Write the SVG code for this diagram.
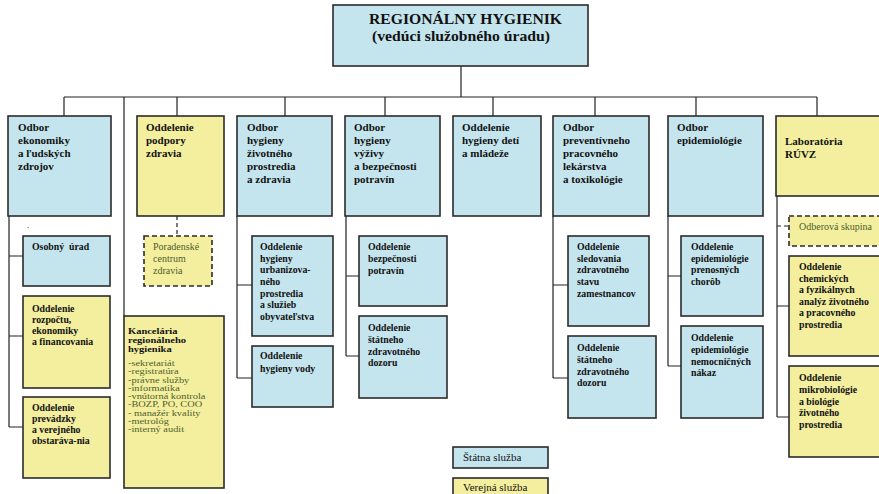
<svg xmlns="http://www.w3.org/2000/svg" width="879" height="494" viewBox="0 0 879 494">
<style>
.b{fill:#c5e5ee;stroke:#2b2b2b;stroke-width:1.6}
.y{fill:#f3ef9f;stroke:#2b2b2b;stroke-width:1.6}
.yd{fill:#f3ef9f;stroke:#2b2b2b;stroke-width:1.6;stroke-dasharray:5,3}
text{font-family:"Liberation Serif","DejaVu Serif",serif;fill:#111}
.h{font-size:11px;font-weight:bold}
.s{font-size:9.8px;font-weight:bold}
.g{font-size:10px;fill:#4f5e2c}
.k{font-size:8.5px;fill:#4f5e2c}
.l{font-size:11px}
.c{fill:none;stroke:#222;stroke-width:1.2}
.cd{fill:none;stroke:#222;stroke-width:1.2;stroke-dasharray:4,3}
</style>
<rect width="879" height="494" fill="#fff"/>
<g id="connectors">
<path class="c" d="M461 66V97M64 97H817M64 97V116M177 97V116M285 97V116M385 97V116M493 97V116M595 97V116M696 97V116M817 97V116M124 97V316"/>
<path class="c" d="M9 216V427M9 256H23M9 336H23M9 427H23"/>
<path class="cd" d="M177 216V236"/>
<path class="c" d="M237 216V378M237 285H252M237 378H252"/>
<path class="c" d="M346 216V356M346 276H359M346 356H359"/>
<path class="c" d="M553 216V378M553 285H568M553 378H568"/>
<path class="c" d="M668 216V366M668 276H681M668 366H681"/>
<path class="c" d="M777 196V417M777 306H789M777 417H789"/>
<path class="cd" d="M777 226H789"/>
</g>
<g id="top">
<rect class="b" x="333" y="5" width="255" height="61"/>
<text x="369" y="24" textLength="193" lengthAdjust="spacingAndGlyphs" style="font-size:15px;font-weight:bold">REGIONÁLNY HYGIENIK</text>
<text x="372" y="41" textLength="178" lengthAdjust="spacingAndGlyphs" style="font-size:14px;font-weight:bold">(vedúci služobného úradu)</text>
</g>
<g id="ekonomiky">
<rect class="b" x="8" y="116" width="103" height="100"/>
<text class="h"><tspan x="18" y="131">Odbor</tspan><tspan x="18" y="144">ekonomiky</tspan><tspan x="18" y="157">a ľudských</tspan><tspan x="18" y="170">zdrojov</tspan></text>
<text x="27" y="228" style="font-size:9px">.</text>
</g>
<g id="osobny">
<rect class="b" x="23" y="236" width="87" height="50"/>
<text class="s" x="32" y="250" xml:space="preserve">Osobný  úrad</text>
</g>
<g id="rozpoctu">
<rect class="y" x="23" y="296" width="87" height="92"/>
<text class="s"><tspan x="32" y="312">Oddelenie</tspan><tspan x="32" y="323">rozpočtu,</tspan><tspan x="32" y="334">ekonomiky</tspan><tspan x="32" y="345">a financovania</tspan></text>
</g>
<g id="prevadzky">
<rect class="y" x="23" y="397" width="87" height="81"/>
<text class="s"><tspan x="32" y="411">Oddelenie</tspan><tspan x="32" y="422">prevádzky</tspan><tspan x="32" y="433">a verejného</tspan><tspan x="32" y="444">obstaráva-nia</tspan></text>
</g>
<g id="podpory">
<rect class="y" x="137" y="116" width="87" height="100"/>
<text class="h"><tspan x="146" y="131">Oddelenie</tspan><tspan x="146" y="144">podpory</tspan><tspan x="146" y="157">zdravia</tspan></text>
</g>
<g id="poradenske">
<rect class="yd" x="144" y="236" width="68" height="50"/>
<text class="g"><tspan x="153" y="250">Poradenské</tspan><tspan x="153" y="262">centrum</tspan><tspan x="153" y="274">zdravia</tspan></text>
</g>
<g id="kancelaria">
<rect class="y" x="124" y="316" width="100" height="172"/>
<g transform="translate(128,0) scale(1.22,1)">
<text class="s" style="font-size:8.6px"><tspan x="0" y="334">Kancelária</tspan><tspan x="0" y="343">regionálneho</tspan><tspan x="0" y="352">hygienika</tspan></text>
<text class="k"><tspan x="0" y="366">-sekretariát</tspan><tspan x="0" y="374.3">-registratúra</tspan><tspan x="0" y="382.6">-právne služby</tspan><tspan x="0" y="390.9">-informatika</tspan><tspan x="0" y="399.2">-vnútorná kontrola</tspan><tspan x="0" y="407.5">-BOZP, PO, COO</tspan><tspan x="0" y="415.8">- manažér kvality</tspan><tspan x="0" y="424.1">-metrológ</tspan><tspan x="0" y="432.4">-interný audit</tspan></text>
</g>
</g>
<g id="zivotneho">
<rect class="b" x="237" y="116" width="95" height="100"/>
<text class="h"><tspan x="247" y="131">Odbor</tspan><tspan x="247" y="144">hygieny</tspan><tspan x="247" y="157">životného</tspan><tspan x="247" y="170">prostredia</tspan><tspan x="247" y="183">a zdravia</tspan></text>
</g>
<g id="urbanizovaneho">
<rect class="b" x="252" y="236" width="81" height="100"/>
<text class="s"><tspan x="260" y="250">Oddelenie</tspan><tspan x="260" y="261.5">hygieny</tspan><tspan x="260" y="273">urbanizova-</tspan><tspan x="260" y="284.5">ného</tspan><tspan x="260" y="296.5">prostredia</tspan><tspan x="260" y="308">a služieb</tspan><tspan x="260" y="319.5">obyvateľstva</tspan></text>
</g>
<g id="vody">
<rect class="b" x="252" y="346" width="81" height="61"/>
<text class="s"><tspan x="260" y="359">Oddelenie</tspan><tspan x="260" y="372">hygieny vody</tspan></text>
</g>
<g id="vyzivy">
<rect class="b" x="345" y="116" width="95" height="100"/>
<text class="h"><tspan x="354" y="131">Odbor</tspan><tspan x="354" y="144">hygieny</tspan><tspan x="354" y="157">výživy</tspan><tspan x="354" y="170">a bezpečnosti</tspan><tspan x="354" y="183">potravín</tspan></text>
</g>
<g id="bezpecnosti">
<rect class="b" x="359" y="236" width="88" height="70"/>
<text class="s"><tspan x="368" y="250">Oddelenie</tspan><tspan x="368" y="261.5">bezpečnosti</tspan><tspan x="368" y="274">potravín</tspan></text>
</g>
<g id="dozoru1">
<rect class="b" x="359" y="316" width="88" height="82"/>
<text class="s"><tspan x="368" y="331">Oddelenie</tspan><tspan x="368" y="343">štátneho</tspan><tspan x="368" y="355">zdravotného</tspan><tspan x="368" y="366">dozoru</tspan></text>
</g>
<g id="deti">
<rect class="b" x="453" y="116" width="88" height="100"/>
<text class="h"><tspan x="462" y="131">Oddelenie</tspan><tspan x="462" y="144">hygieny detí</tspan><tspan x="462" y="157">a mládeže</tspan></text>
</g>
<g id="preventivneho">
<rect class="b" x="553" y="116" width="96" height="100"/>
<text class="h"><tspan x="563" y="131">Odbor</tspan><tspan x="563" y="144">preventívneho</tspan><tspan x="563" y="157">pracovného</tspan><tspan x="563" y="170">lekárstva</tspan><tspan x="563" y="183">a toxikológie</tspan></text>
</g>
<g id="sledovania">
<rect class="b" x="568" y="236" width="81" height="90"/>
<text class="s"><tspan x="577" y="250">Oddelenie</tspan><tspan x="577" y="261.5">sledovania</tspan><tspan x="577" y="273">zdravotného</tspan><tspan x="577" y="285">stavu</tspan><tspan x="577" y="297">zamestnancov</tspan></text>
</g>
<g id="dozoru2">
<rect class="b" x="568" y="336" width="88" height="82"/>
<text class="s"><tspan x="577" y="351">Oddelenie</tspan><tspan x="577" y="363">štátneho</tspan><tspan x="577" y="375">zdravotného</tspan><tspan x="577" y="386">dozoru</tspan></text>
</g>
<g id="epidemiologie">
<rect class="b" x="668" y="116" width="95" height="100"/>
<text class="h"><tspan x="677" y="131">Odbor</tspan><tspan x="677" y="144">epidemiológie</tspan></text>
</g>
<g id="prenosnych">
<rect class="b" x="681" y="236" width="82" height="80"/>
<text class="s"><tspan x="691" y="250">Oddelenie</tspan><tspan x="691" y="261.5">epidemiológie</tspan><tspan x="691" y="273">prenosných</tspan><tspan x="691" y="285">chorôb</tspan></text>
</g>
<g id="nemocnicnych">
<rect class="b" x="681" y="326" width="82" height="92"/>
<text class="s"><tspan x="691" y="341">Oddelenie</tspan><tspan x="691" y="353">epidemiológie</tspan><tspan x="691" y="364.5">nemocničných</tspan><tspan x="691" y="376">nákaz</tspan></text>
</g>
<g id="laboratoria">
<rect class="y" x="776" y="116" width="110" height="80"/>
<text class="h"><tspan x="785" y="145">Laboratória</tspan><tspan x="785" y="158">RÚVZ</tspan></text>
</g>
<g id="odberova">
<rect class="yd" x="789" y="216" width="97" height="30"/>
<text class="g" x="799" y="230">Odberová skupina</text>
</g>
<g id="chemickych">
<rect class="y" x="789" y="256" width="97" height="100"/>
<text class="s"><tspan x="799" y="270">Oddelenie</tspan><tspan x="799" y="281.5">chemických</tspan><tspan x="799" y="293">a fyzikálnych</tspan><tspan x="799" y="304.5">analýz životného</tspan><tspan x="799" y="316">a pracovného</tspan><tspan x="799" y="327.5">prostredia</tspan></text>
</g>
<g id="mikrobiologie">
<rect class="y" x="789" y="366" width="97" height="91"/>
<text class="s"><tspan x="799" y="381">Oddelenie</tspan><tspan x="799" y="393">mikrobiológie</tspan><tspan x="799" y="404.5">a biológie</tspan><tspan x="799" y="416">životného</tspan><tspan x="799" y="427.5">prostredia</tspan></text>
</g>
<g id="legend">
<rect class="b" x="453" y="447" width="95" height="21"/>
<text class="l" x="463" y="461">Štátna služba</text>
<rect class="y" x="453" y="478" width="95" height="21"/>
<text class="l" x="463" y="491">Verejná služba</text>
</g>
</svg>
